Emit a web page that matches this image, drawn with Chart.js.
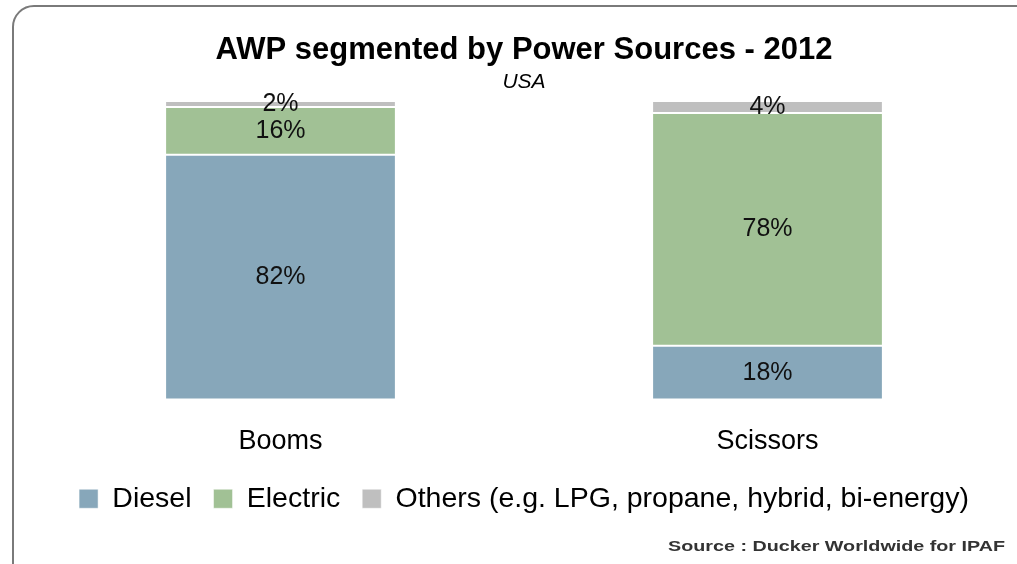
<!DOCTYPE html>
<html>
<head>
<meta charset="utf-8">
<script src="https://cdn.jsdelivr.net/npm/chart.js@4.4.1/dist/chart.umd.min.js"></script>
<style>
  html, body { margin: 0; padding: 0; background: #fff; overflow: hidden; }
  #wrap { position: relative; width: 1017px; height: 564px; }
  #frame {
    position: absolute; left: 12px; top: 5px; width: 1040px; height: 580px;
    border: 2px solid #7a7a7a; border-radius: 22px; pointer-events: none;
  }
</style>
</head>
<body>
<div id="wrap">
  <canvas id="myChart" width="1017" height="564"></canvas>
  <div id="frame"></div>
</div>
<script>
// data
const categories = ['Booms', 'Scissors'];
const diesel = [82, 18];
const electric = [16, 78];
const others = [2, 4];
const seriesNames = ['Diesel', 'Electric', 'Others (e.g. LPG, propane, hybrid, bi-energy)'];

const FONT = "'Liberation Sans', Arial, sans-serif";

const makeSet = (label, data, color) => ({
    label: label,
    data: data,
    backgroundColor: color,
    borderColor: '#ffffff',
    borderWidth: { top: 1, bottom: 1, left: 0, right: 0 },
    borderSkipped: false,
    barPercentage: 0.47,
    categoryPercentage: 1
});

// % labels in the middle of each segment
const segmentLabels = {
    id: 'segmentLabels',
    afterDatasetsDraw(chart) {
        const ctx = chart.ctx;
        ctx.save();
        ctx.font = '25px ' + FONT;
        ctx.fillStyle = '#111';
        ctx.textAlign = 'center';
        ctx.textBaseline = 'middle';
        chart.data.datasets.forEach((ds, i) => {
            chart.getDatasetMeta(i).data.forEach((bar, j) => {
                ctx.fillText(ds.data[j] + '%', bar.x, (bar.y + bar.base) / 2);
            });
        });
        ctx.restore();
    }
};

// source note bottom right
const sourceNote = {
    id: 'sourceNote',
    afterDraw(chart) {
        const ctx = chart.ctx;
        const txt = 'Source : Ducker Worldwide for IPAF';
        ctx.save();
        ctx.font = 'bold 14px ' + FONT;
        ctx.fillStyle = '#333';
        ctx.textBaseline = 'middle';
        const w = ctx.measureText(txt).width;
        const sx = 337 / w;
        ctx.translate(1005, 547);
        ctx.scale(sx, 1);
        ctx.textAlign = 'right';
        ctx.fillText(txt, 0, 0);
        ctx.restore();
    }
};

new Chart(document.getElementById('myChart'), {
    type: 'bar',
    data: {
        labels: categories,
        datasets: [
            makeSet(seriesNames[0], diesel, '#87a7ba'),
            makeSet(seriesNames[1], electric, '#a1c195'),
            makeSet(seriesNames[2], others, '#bfbfbf')
        ]
    },
    options: {
        responsive: false,
        animation: false,
        layout: { padding: { left: 37, right: 6, top: 0, bottom: 41 } },
        plugins: {
            title: {
                display: true,
                text: 'AWP segmented by Power Sources - 2012',
                color: '#000',
                font: { family: FONT, size: 31, weight: 'bold', lineHeight: 1.2 },
                padding: { top: 32, bottom: 0 }
            },
            subtitle: {
                display: true,
                text: 'USA',
                color: '#000',
                font: { family: FONT, size: 21, style: 'italic', lineHeight: 1.2 },
                padding: { top: 0, bottom: 6.6 }
            },
            legend: {
                position: 'bottom',
                labels: {
                    color: '#000',
                    font: { family: FONT, size: 28.5 },
                    boxWidth: 19,
                    boxHeight: 19,
                    padding: 22
                }
            },
            tooltip: { enabled: false }
        },
        scales: {
            x: {
                stacked: true,
                grid: { display: false },
                border: { display: false },
                ticks: { color: '#000', font: { family: FONT, size: 27 }, padding: 18 },
                afterFit(scale) { scale.height = 63; }
            },
            y: {
                stacked: true,
                display: false,
                min: 0,
                max: 100
            }
        }
    },
    plugins: [segmentLabels, sourceNote]
});
</script>
</body>
</html>
